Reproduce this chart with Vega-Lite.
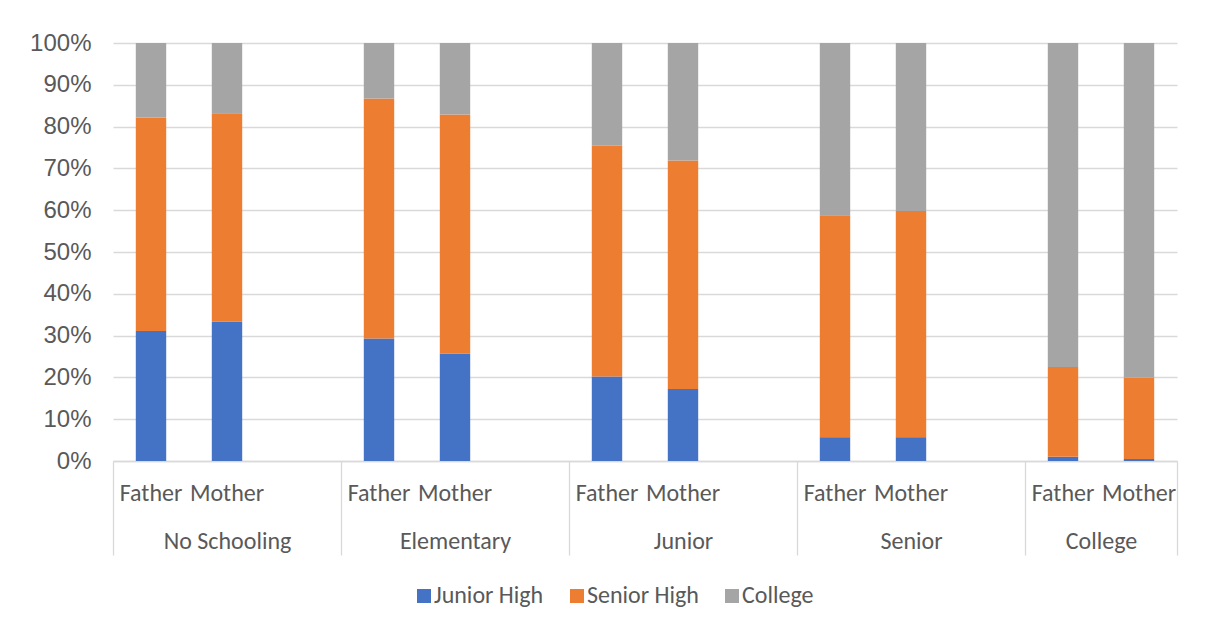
{
  "$schema": "https://vega.github.io/schema/vega-lite/v6.json",
  "width": 1064,
  "height": 418,
  "autosize": {"type": "none"},
  "padding": {"left": 113, "top": 43, "right": 28, "bottom": 176},
  "background": "white",
  "config": {"view": {"stroke": null}, "font": "Liberation Sans"},
  "resolve": {"scale": {"x": "independent"}, "axis": {"x": "independent"}},
  "layer": [
    {
      "data": {"values": [
        {"slot": "No Schooling/Father", "edu": "No Schooling", "parent": "Father", "level": "Junior High", "rank": 1, "pct": 31.1},
        {"slot": "No Schooling/Father", "edu": "No Schooling", "parent": "Father", "level": "Senior High", "rank": 2, "pct": 51.1},
        {"slot": "No Schooling/Father", "edu": "No Schooling", "parent": "Father", "level": "College", "rank": 3, "pct": 17.8},
        {"slot": "No Schooling/Mother", "edu": "No Schooling", "parent": "Mother", "level": "Junior High", "rank": 1, "pct": 33.3},
        {"slot": "No Schooling/Mother", "edu": "No Schooling", "parent": "Mother", "level": "Senior High", "rank": 2, "pct": 49.9},
        {"slot": "No Schooling/Mother", "edu": "No Schooling", "parent": "Mother", "level": "College", "rank": 3, "pct": 16.8},
        {"slot": "Elementary/Father", "edu": "Elementary", "parent": "Father", "level": "Junior High", "rank": 1, "pct": 29.3},
        {"slot": "Elementary/Father", "edu": "Elementary", "parent": "Father", "level": "Senior High", "rank": 2, "pct": 57.4},
        {"slot": "Elementary/Father", "edu": "Elementary", "parent": "Father", "level": "College", "rank": 3, "pct": 13.3},
        {"slot": "Elementary/Mother", "edu": "Elementary", "parent": "Mother", "level": "Junior High", "rank": 1, "pct": 25.7},
        {"slot": "Elementary/Mother", "edu": "Elementary", "parent": "Mother", "level": "Senior High", "rank": 2, "pct": 57.2},
        {"slot": "Elementary/Mother", "edu": "Elementary", "parent": "Mother", "level": "College", "rank": 3, "pct": 17.1},
        {"slot": "Junior/Father", "edu": "Junior", "parent": "Father", "level": "Junior High", "rank": 1, "pct": 20.2},
        {"slot": "Junior/Father", "edu": "Junior", "parent": "Father", "level": "Senior High", "rank": 2, "pct": 55.2},
        {"slot": "Junior/Father", "edu": "Junior", "parent": "Father", "level": "College", "rank": 3, "pct": 24.6},
        {"slot": "Junior/Mother", "edu": "Junior", "parent": "Mother", "level": "Junior High", "rank": 1, "pct": 17.2},
        {"slot": "Junior/Mother", "edu": "Junior", "parent": "Mother", "level": "Senior High", "rank": 2, "pct": 54.7},
        {"slot": "Junior/Mother", "edu": "Junior", "parent": "Mother", "level": "College", "rank": 3, "pct": 28.1},
        {"slot": "Senior/Father", "edu": "Senior", "parent": "Father", "level": "Junior High", "rank": 1, "pct": 5.7},
        {"slot": "Senior/Father", "edu": "Senior", "parent": "Father", "level": "Senior High", "rank": 2, "pct": 53.1},
        {"slot": "Senior/Father", "edu": "Senior", "parent": "Father", "level": "College", "rank": 3, "pct": 41.2},
        {"slot": "Senior/Mother", "edu": "Senior", "parent": "Mother", "level": "Junior High", "rank": 1, "pct": 5.7},
        {"slot": "Senior/Mother", "edu": "Senior", "parent": "Mother", "level": "Senior High", "rank": 2, "pct": 54.1},
        {"slot": "Senior/Mother", "edu": "Senior", "parent": "Mother", "level": "College", "rank": 3, "pct": 40.2},
        {"slot": "College/Father", "edu": "College", "parent": "Father", "level": "Junior High", "rank": 1, "pct": 1.0},
        {"slot": "College/Father", "edu": "College", "parent": "Father", "level": "Senior High", "rank": 2, "pct": 21.5},
        {"slot": "College/Father", "edu": "College", "parent": "Father", "level": "College", "rank": 3, "pct": 77.5},
        {"slot": "College/Mother", "edu": "College", "parent": "Mother", "level": "Junior High", "rank": 1, "pct": 0.5},
        {"slot": "College/Mother", "edu": "College", "parent": "Mother", "level": "Senior High", "rank": 2, "pct": 19.5},
        {"slot": "College/Mother", "edu": "College", "parent": "Mother", "level": "College", "rank": 3, "pct": 80.0}
      ]},
      "mark": {"type": "bar"},
      "encoding": {
        "x": {
          "field": "slot", "type": "nominal",
          "scale": {
            "domain": ["No Schooling/Father", "No Schooling/Mother", "No Schooling/",
                       "Elementary/Father", "Elementary/Mother", "Elementary/",
                       "Junior/Father", "Junior/Mother", "Junior/",
                       "Senior/Father", "Senior/Mother", "Senior/",
                       "College/Father", "College/Mother"],
            "paddingInner": 0.6, "paddingOuter": 0.3
          },
          "axis": {
            "orient": "bottom", "title": null, "ticks": false, "grid": false,
            "domain": true, "domainColor": "#D9D9D9", "domainWidth": 1.3,
            "labelAngle": 0, "labelExpr": "split(datum.value, '/')[1]",
            "labelPadding": 20, "labelFontSize": 24, "labelFont": "Carlito, Lato",
            "labelColor": "#595959", "labelOverlap": false, "labelBound": false
          }
        },
        "y": {
          "field": "pct", "type": "quantitative", "stack": "normalize",
          "scale": {"domain": [0, 1]},
          "axis": {
            "title": null, "values": [0, 0.1, 0.2, 0.3, 0.4, 0.5, 0.6, 0.7, 0.8, 0.9, 1],
            "format": ".0%", "domain": false, "ticks": false, "labelPadding": 22,
            "labelFontSize": 24, "labelFont": "Liberation Sans", "labelColor": "#595959",
            "gridColor": "#D9D9D9", "gridWidth": 1.3
          }
        },
        "color": {
          "field": "level", "type": "nominal",
          "scale": {"domain": ["Junior High", "Senior High", "College"], "range": ["#4472C4", "#ED7D31", "#A5A5A5"]},
          "legend": {
            "title": null, "orient": "none", "direction": "horizontal",
            "legendX": 299, "legendY": 541, "symbolType": "square", "symbolSize": 196,
            "symbolStrokeWidth": 0, "labelFontSize": 24, "labelFont": "Carlito, Lato",
            "labelColor": "#595959", "columnPadding": 21, "labelOffset": -2
          }
        },
        "order": {"field": "rank", "type": "quantitative"}
      }
    },
    {
      "data": {"name": "groups", "values": [
        {"edu": "No Schooling", "mid": 1.5},
        {"edu": "Elementary", "mid": 4.5},
        {"edu": "Junior", "mid": 7.5},
        {"edu": "Senior", "mid": 10.5},
        {"edu": "College", "mid": 13}
      ]},
      "mark": {"type": "point", "opacity": 0},
      "encoding": {
        "x": {
          "field": "mid", "type": "quantitative",
          "scale": {"domain": [0, 14], "nice": false, "zero": false},
          "axis": {
            "orient": "bottom", "title": null, "values": [0, 3, 6, 9, 12, 14],
            "labels": false, "domain": false, "grid": false, "ticks": true,
            "tickSize": 94, "tickColor": "#D9D9D9", "tickWidth": 1.3
          }
        }
      }
    },
    {
      "data": {"name": "groups"},
      "mark": {"type": "point", "opacity": 0},
      "encoding": {
        "x": {
          "field": "mid", "type": "quantitative",
          "scale": {"domain": [0, 14], "nice": false, "zero": false},
          "axis": {
            "orient": "bottom", "title": null, "values": [1.5, 4.5, 7.5, 10.5, 13],
            "labelExpr": "datum.value == 1.5 ? 'No Schooling' : datum.value == 4.5 ? 'Elementary' : datum.value == 7.5 ? 'Junior' : datum.value == 10.5 ? 'Senior' : 'College'",
            "ticks": false, "domain": false, "grid": false, "labelPadding": 68,
            "labelFontSize": 24, "labelFont": "Carlito, Lato", "labelColor": "#595959",
            "labelFlush": false, "labelOverlap": false, "labelBound": false
          }
        }
      }
    }
  ]
}
